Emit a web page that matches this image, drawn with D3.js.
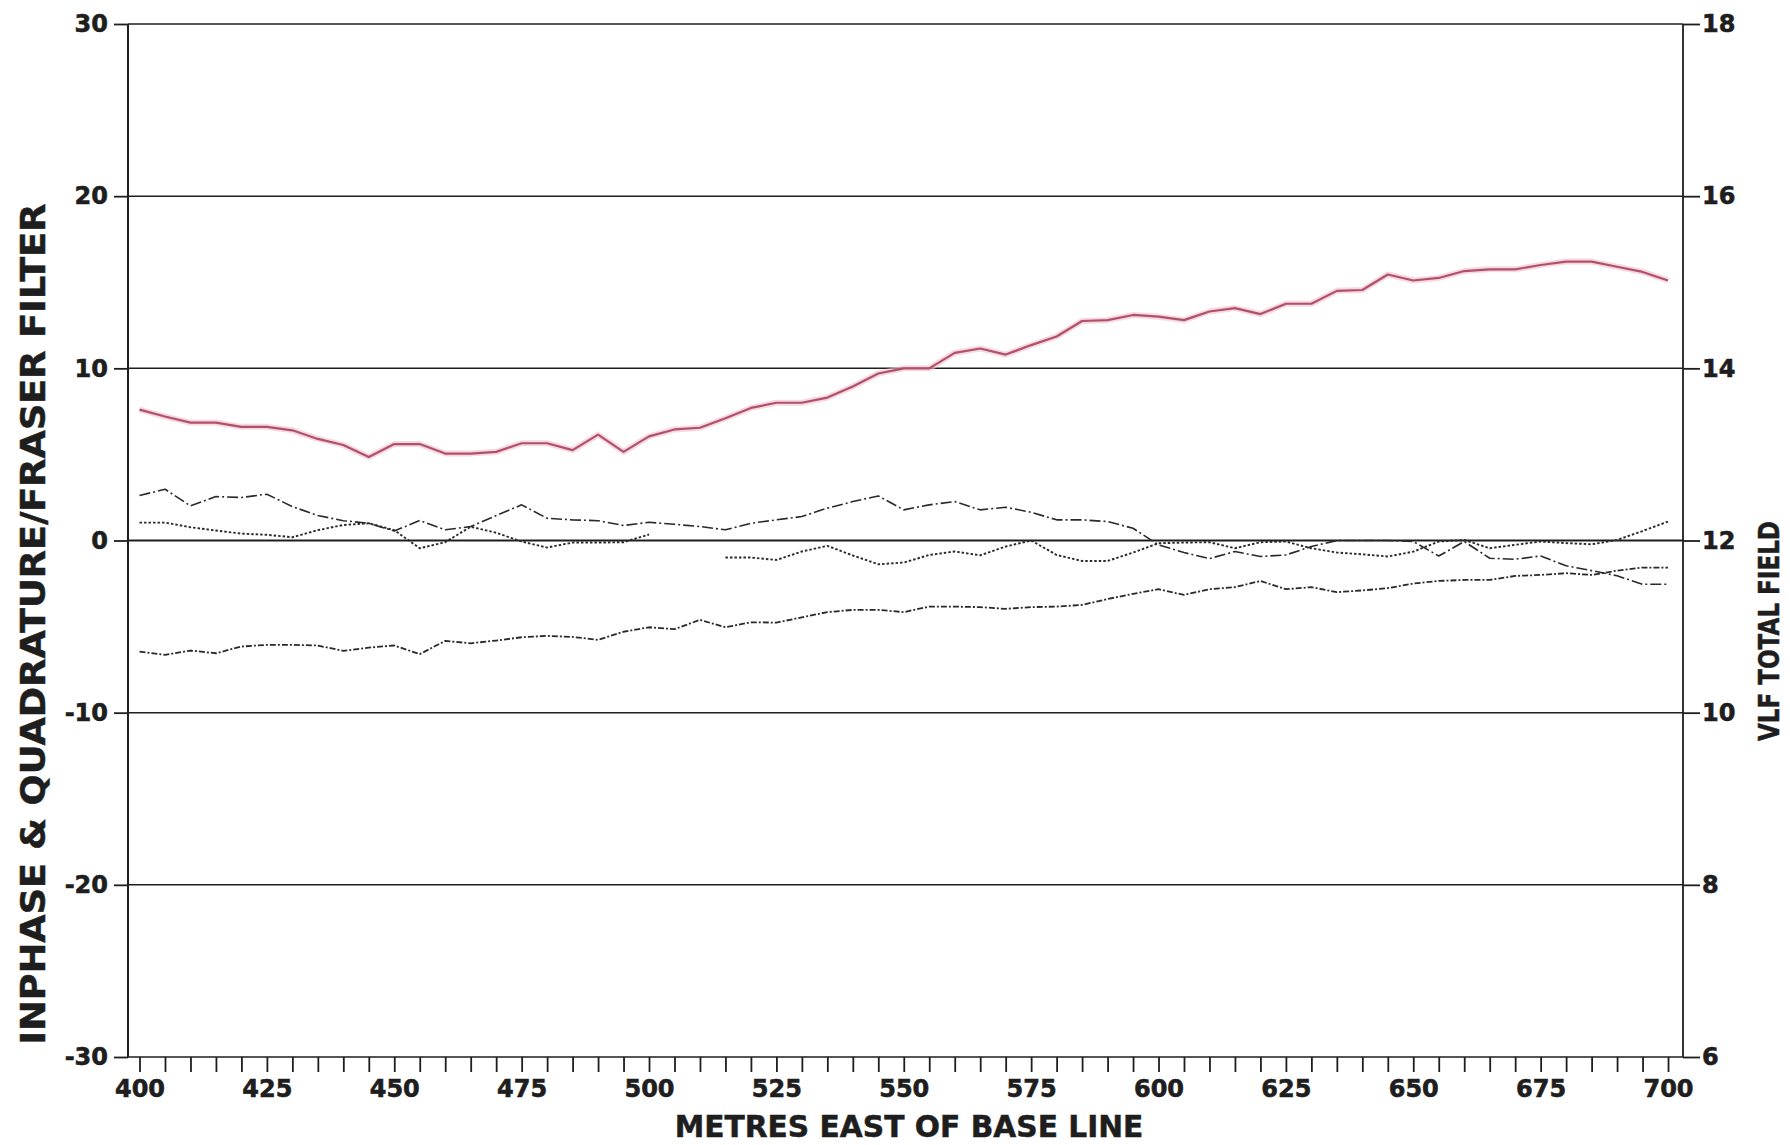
<!DOCTYPE html>
<html><head><meta charset="utf-8">
<script src="https://cdn.jsdelivr.net/npm/d3@7"></script>
<style>html,body{margin:0;padding:0;background:#fff;} svg{display:block}</style>
</head><body>
<svg id="chart" width="1790" height="1145"></svg>
<script>
// ---- data (metres east of base line, every 5 m) ----
const distances = [400,405,410,415,420,425,430,435,440,445,450,455,460,465,470,475,480,485,490,495,500,505,510,515,520,525,530,535,540,545,550,555,560,565,570,575,580,585,590,595,600,605,610,615,620,625,630,635,640,645,650,655,660,665,670,675,680,685,690,695,700];

// VLF total field (right axis)
const vlfTotalField = [13.52,13.44,13.37,13.37,13.32,13.32,13.28,13.18,13.11,12.97,13.12,13.12,13.01,13.01,13.03,13.13,13.13,13.05,13.23,13.03,13.21,13.29,13.31,13.42,13.54,13.60,13.60,13.66,13.79,13.94,14.00,14.00,14.18,14.23,14.16,14.27,14.37,14.55,14.56,14.62,14.60,14.56,14.66,14.70,14.63,14.75,14.75,14.90,14.91,15.09,15.02,15.05,15.13,15.15,15.15,15.20,15.24,15.24,15.18,15.12,15.02];

// left-axis series
const inphase = [2.61,2.98,2.01,2.55,2.50,2.69,1.97,1.45,1.15,1.00,0.55,1.16,0.62,0.81,1.45,2.07,1.29,1.20,1.15,0.87,1.06,0.94,0.81,0.62,1.00,1.20,1.39,1.88,2.26,2.59,1.78,2.07,2.26,1.78,1.93,1.64,1.20,1.20,1.10,0.71,-0.25,-0.70,-1.05,-0.64,-0.93,-0.84,-0.35,0.00,0.00,0.00,-0.06,-0.90,-0.06,-1.03,-1.09,-0.90,-1.47,-1.75,-2.05,-2.54,-2.54];
const quadrature = [1.04,1.04,0.77,0.58,0.40,0.33,0.19,0.60,0.90,1.00,0.60,-0.45,-0.10,0.80,0.45,-0.06,-0.41,-0.12,-0.12,-0.10,0.35,null,null,-0.99,-0.99,-1.13,-0.64,-0.31,-0.87,-1.38,-1.28,-0.84,-0.64,-0.86,-0.35,0.00,-0.84,-1.19,-1.19,-0.70,-0.16,-0.12,-0.10,-0.45,-0.10,-0.06,-0.45,-0.70,-0.80,-0.93,-0.65,-0.06,0.03,-0.45,-0.25,-0.06,-0.15,-0.22,0.03,0.55,1.10];
const fraserFilter = [-6.45,-6.64,-6.39,-6.55,-6.16,-6.06,-6.06,-6.10,-6.41,-6.22,-6.10,-6.60,-5.83,-5.97,-5.81,-5.62,-5.54,-5.60,-5.77,-5.30,-5.04,-5.15,-4.61,-5.04,-4.75,-4.77,-4.46,-4.16,-4.03,-4.03,-4.16,-3.84,-3.84,-3.87,-3.97,-3.87,-3.84,-3.74,-3.40,-3.10,-2.83,-3.16,-2.83,-2.71,-2.35,-2.83,-2.71,-3.00,-2.90,-2.77,-2.50,-2.35,-2.29,-2.29,-2.06,-2.00,-1.90,-2.00,-1.75,-1.57,-1.57];

// tick labels
const xTickLabels = [400,425,450,475,500,525,550,575,600,625,650,675,700];
const leftTicks = [-30,-20,-10,0,10,20,30];
const rightTicks = [6,8,10,12,14,16,18];

const xTitle = "METRES EAST OF BASE LINE";
const leftTitle = "INPHASE & QUADRATURE/FRASER FILTER";
const rightTitle = "VLF TOTAL FIELD";

// ---- layout ----
const P = {left:128, right:1683, top:24, bottom:1057};
const FONT = "'DejaVu Sans', 'Liberation Sans', Arial, sans-serif";
const INK = "#1e1e1e";

const svg = d3.select("#chart");
const x = d3.scaleLinear().domain([397.74, 702.94]).range([P.left, P.right]);
const yL = d3.scaleLinear().domain([-30, 30]).range([P.bottom, P.top]);
const yR = d3.scaleLinear().domain([6, 18]).range([P.bottom, P.top]);

// gridlines
svg.append("g").selectAll("line").data(leftTicks).join("line")
  .attr("x1", P.left).attr("x2", P.right)
  .attr("y1", d => yL(d)).attr("y2", d => yL(d))
  .attr("stroke", INK).attr("stroke-width", d => d === 0 ? 2 : 1.5);

// frame verticals
svg.append("line").attr("x1", P.left).attr("x2", P.left).attr("y1", P.top).attr("y2", P.bottom)
  .attr("stroke", INK).attr("stroke-width", 2);
svg.append("line").attr("x1", P.right).attr("x2", P.right).attr("y1", P.top).attr("y2", P.bottom)
  .attr("stroke", INK).attr("stroke-width", 1.8);

function styleAxis(g, size){
  g.select(".domain").remove();
  g.selectAll(".tick line").attr("stroke", INK).attr("stroke-width", 1.8);
  g.selectAll(".tick text").attr("fill", INK).attr("stroke", INK).attr("stroke-width", 0.6)
    .style("font-family", FONT).style("font-weight", "bold").style("font-size", size + "px");
}
const plain = d => String(d);

// x axis
svg.append("g").attr("transform", `translate(0,${P.bottom})`)
  .call(d3.axisBottom(x).tickValues(distances).tickSize(15).tickPadding(8)
    .tickFormat(d => xTickLabels.includes(d) ? plain(d) : ""))
  .call(g => styleAxis(g, 24));

// left axis
svg.append("g").attr("transform", `translate(${P.left},0)`)
  .call(d3.axisLeft(yL).tickValues(leftTicks).tickSize(14).tickPadding(6).tickFormat(plain))
  .call(g => styleAxis(g, 24));

// right axis
svg.append("g").attr("transform", `translate(${P.right},0)`)
  .call(d3.axisRight(yR).tickValues(rightTicks).tickSize(17).tickPadding(2).tickFormat(plain))
  .call(g => styleAxis(g, 24));

// series
const rows = distances.map((d, i) => ({d, vlf: vlfTotalField[i], ip: inphase[i], qd: quadrature[i], ff: fraserFilter[i]}));

function addLine(key, yScale, stroke, width, dash){
  const line = d3.line().defined(r => r[key] != null).x(r => x(r.d)).y(r => yScale(r[key]));
  const p = svg.append("path").datum(rows).attr("d", line).attr("fill", "none")
    .attr("stroke", stroke).attr("stroke-width", width).attr("stroke-linejoin", "round");
  if (dash) p.attr("stroke-dasharray", dash);
  return p;
}

addLine("ip", yL, "#2a2a2a", 1.6, "11,3,2,3");
addLine("qd", yL, "#2a2a2a", 1.9, "2.5,2");
addLine("ff", yL, "#2a2a2a", 1.8, "6,2,2,2");

// VLF total field (pink)
addLine("vlf", yR, "#f0c0cc", 6, null).attr("opacity", 0.6);
addLine("vlf", yR, "#b0506a", 2.2, null);

// titles
svg.append("text").attr("x", 909).attr("y", 1137).attr("text-anchor", "middle")
  .style("font-family", FONT).style("font-weight", "bold").style("font-size", "29.7px")
  .attr("fill", INK).attr("stroke", INK).attr("stroke-width", 0.5).text(xTitle);

svg.append("text").attr("transform", "translate(33,624) rotate(-90)").attr("text-anchor", "middle")
  .attr("dominant-baseline", "central")
  .attr("textLength", 841).attr("lengthAdjust", "spacingAndGlyphs")
  .style("font-family", FONT).style("font-weight", "bold").style("font-size", "33px")
  .attr("fill", INK).attr("stroke", INK).attr("stroke-width", 0.5).text(leftTitle);

svg.append("text").attr("transform", "translate(1769,631) rotate(-90)").attr("text-anchor", "middle")
  .attr("dominant-baseline", "central")
  .attr("textLength", 220).attr("lengthAdjust", "spacingAndGlyphs")
  .style("font-family", FONT).style("font-weight", "bold").style("font-size", "28px")
  .attr("fill", INK).attr("stroke", INK).attr("stroke-width", 0.5).text(rightTitle);
</script>
</body></html>
